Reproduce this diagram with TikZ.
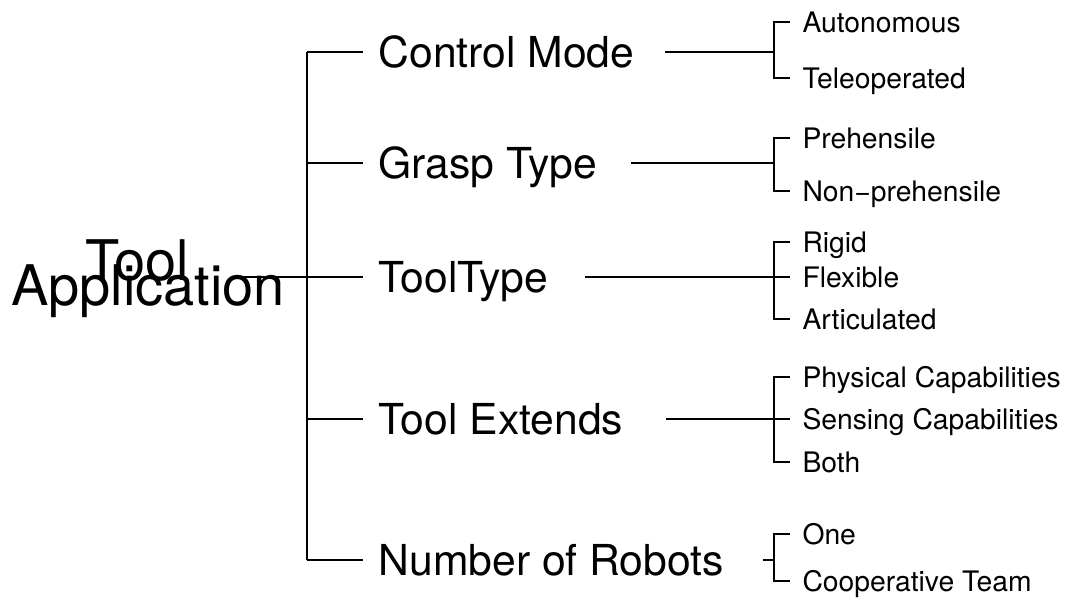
\documentclass[tikz,border=0pt]{standalone}
\usepackage{fontspec}
\setmainfont{TeX Gyre Heros}
\begin{document}
\begin{tikzpicture}[x=0.75pt,y=-0.75pt,line width=0.8pt,
  rootlabel/.style={font=\fontsize{42}{42}\selectfont,inner sep=0pt,anchor=base},
  catlabel/.style={font=\fontsize{32}{32}\selectfont,inner sep=0pt,
    text height=23pt,text depth=0pt,anchor=west},
  leaflabel/.style={font=\fontsize{21.2}{21.2}\selectfont,inner ysep=0pt,inner xsep=9pt,
    text height=15.2pt,text depth=0pt,anchor=west}]
\useasboundingbox (0,0) rectangle (1065,603);

% root
\node[rootlabel] (tool) at (137,280) {Tool};
\node[rootlabel] (app) at (148,305) {Application};
\coordinate (rootout) at (237,277);

% trunk
\coordinate (t1) at (307,52);
\coordinate (t2) at (307,163);
\coordinate (t3) at (307,277);
\coordinate (t4) at (307,419);
\coordinate (t5) at (307,560);

% categories
\node[catlabel] (cm) at (378,52) {Control Mode};
\node[catlabel] (gt) at (378,163) {Grasp Type};
\node[catlabel] (tt) at (378,277) {ToolType};
\node[catlabel] (te) at (378,419) {Tool Extends};
\node[catlabel] (nr) at (378,560) {Number of Robots};

% bracket joints
\coordinate (bcm) at (774,52);
\coordinate (bgt) at (774,163);
\coordinate (btt) at (774,277);
\coordinate (bte) at (774,419);
\coordinate (bnr) at (774,560);

% leaves
\node[leaflabel] (auto) at (790,22) {Autonomous};
\node[leaflabel] (tele) at (790,78) {Teleoperated};
\node[leaflabel] (preh) at (790,138) {Prehensile};
\node[leaflabel] (npreh) at (790,191) {Non−prehensile};
\node[leaflabel] (rigid) at (790,242) {Rigid};
\node[leaflabel] (flex) at (790,277) {Flexible};
\node[leaflabel] (artic) at (790,319) {Articulated};
\node[leaflabel] (phys) at (790,377) {Physical Capabilities};
\node[leaflabel] (sens) at (790,419) {Sensing Capabilities};
\node[leaflabel] (both) at (790,462) {Both};
\node[leaflabel] (one) at (790,534) {One};
\node[leaflabel] (coop) at (790,581) {Cooperative Team};

% root to trunk
\draw (rootout) -- (t3);
\draw (t1) -- (t5);
\foreach \t/\c in {t1/cm,t2/gt,t3/tt,t4/te,t5/nr}
  \draw (\t) -- ([xshift=-11pt]\c.west);

% category to brackets
\foreach \c/\b/\g in {cm/bcm/22.5pt,gt/bgt/25pt,tt/btt/27pt,te/bte/32pt,nr/bnr/29pt}
  \draw ([xshift=\g]\c.east) -- (\b);

\draw (auto.west) -| (bcm) |- (tele.west);
\draw (preh.west) -| (bgt) |- (npreh.west);
\draw (rigid.west) -| (btt) |- (artic.west);
\draw (btt) -- (flex.west);
\draw (phys.west) -| (bte) |- (both.west);
\draw (bte) -- (sens.west);
\draw (one.west) -| (bnr) |- (coop.west);
\end{tikzpicture}
\end{document}
